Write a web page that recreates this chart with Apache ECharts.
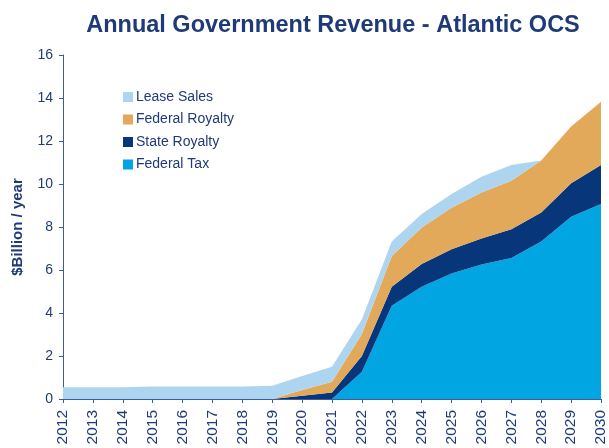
<!DOCTYPE html>
<html>
<head>
<meta charset="utf-8">
<script src="https://cdn.jsdelivr.net/npm/echarts@6/dist/echarts.min.js"></script>
<style>
html,body{margin:0;padding:0;background:#fff;}
#chart{width:609px;height:448px;}
</style>
</head>
<body>
<div id="chart"></div>
<script>
const years = ['2012','2013','2014','2015','2016','2017','2018','2019','2020','2021','2022','2023','2024','2025','2026','2027','2028','2029','2030'];
const federalTax   = [0,0,0,0,0,0,0,0,0,0,1.27,4.34,5.22,5.84,6.26,6.56,7.32,8.48,9.07];
const stateRoyalty = [0,0,0,0,0,0,0,0,0.15,0.30,0.73,0.88,1.06,1.12,1.21,1.33,1.35,1.55,1.81];
const fedRoyalty   = [0,0,0,0,0,0,0,0,0.27,0.50,1.02,1.43,1.70,1.94,2.13,2.26,2.42,2.64,2.95];
const leaseSales   = [0.55,0.55,0.55,0.58,0.58,0.58,0.58,0.62,0.65,0.70,0.69,0.67,0.62,0.63,0.74,0.73,0,0,0];
const yTicks = [0, 16, 2];

const txt = '#1f3a78';
const axisCol = '#3d5c9c';
const font = 'Liberation Sans, Arial, sans-serif';

function area(name, data, color) {
  return {
    name, type: 'line', stack: 'total', data,
    symbol: 'none', smooth: false,
    lineStyle: { width: 0 },
    areaStyle: { color, opacity: 1 },
    itemStyle: { color },
    emphasis: { disabled: true }
  };
}

const chart = echarts.init(document.getElementById('chart'));
chart.setOption({
  animation: false,
  textStyle: { fontFamily: font },
  title: {
    text: 'Annual Government Revenue - Atlantic OCS',
    left: 328, top: 9, textAlign: 'center',
    textStyle: { color: txt, fontSize: 23.5, fontWeight: 'bold', fontFamily: font }
  },
  legend: {
    orient: 'vertical', left: 118, top: 85,
    itemWidth: 10, itemHeight: 10, itemGap: 8.5,
    data: ['Lease Sales', 'Federal Royalty', 'State Royalty', 'Federal Tax'],
    textStyle: { color: txt, fontSize: 14, fontFamily: font, padding: [0,0,0,-2] },
    icon: 'rect'
  },
  grid: { left: 63, right: 5, top: 55, bottom: 49, containLabel: false },
  xAxis: {
    type: 'category', data: years, boundaryGap: false,
    axisLine: { lineStyle: { color: axisCol, width: 1 } },
    axisTick: { show: true, length: 4, lineStyle: { color: axisCol } },
    axisLabel: { interval: 0, rotate: 90, margin: 11, color: txt, fontSize: 15.5, fontFamily: font },
    splitLine: { show: false }
  },
  yAxis: {
    type: 'value', min: yTicks[0], max: yTicks[1], interval: yTicks[2],
    name: '$Billion / year', nameLocation: 'middle', nameGap: 38, nameRotate: 90,
    nameTextStyle: { color: txt, fontSize: 15, fontWeight: 'bold', fontFamily: font },
    axisLine: { show: true, lineStyle: { color: axisCol, width: 1 } },
    axisTick: { show: true, length: 4, lineStyle: { color: axisCol } },
    axisLabel: { margin: 10, color: txt, fontSize: 14, fontFamily: font },
    splitLine: { show: false }
  },
  series: [
    area('Federal Tax', federalTax, '#00a5e1'),
    area('State Royalty', stateRoyalty, '#07367a'),
    area('Federal Royalty', fedRoyalty, '#e2a95b'),
    area('Lease Sales', leaseSales, '#aed5f0')
  ]
});
</script>
</body>
</html>
